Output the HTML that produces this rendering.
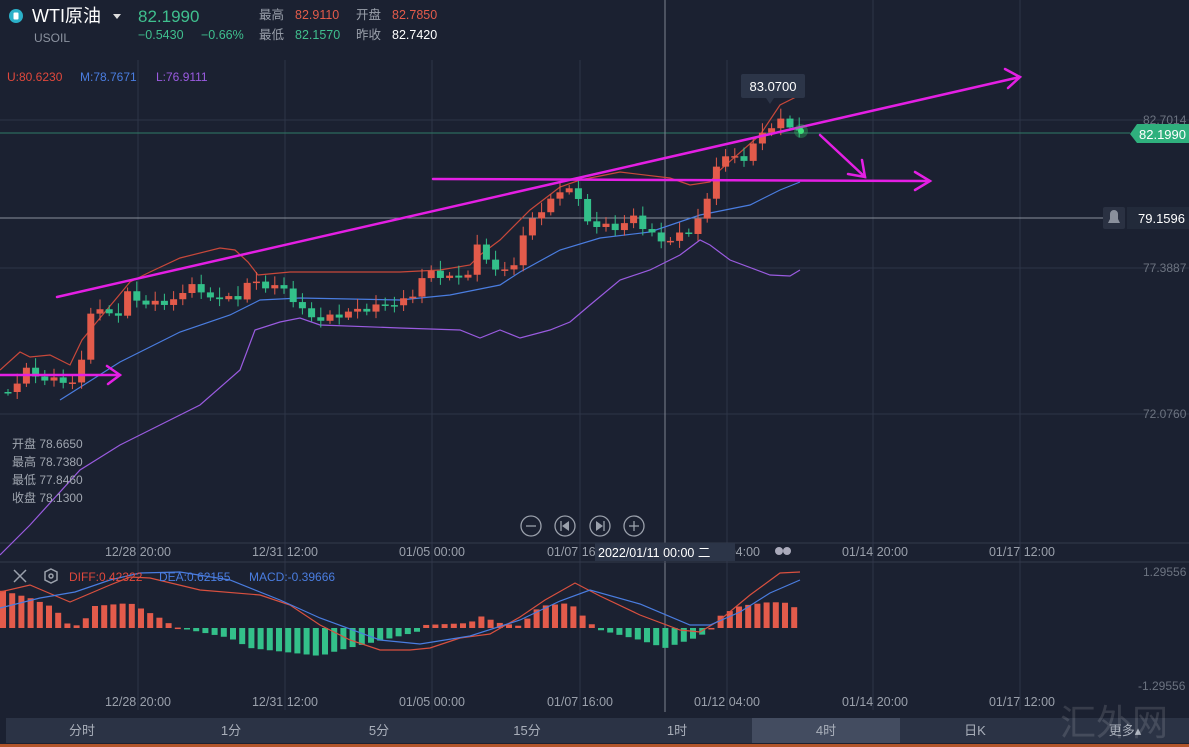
<!DOCTYPE html>
<html><head><meta charset="utf-8">
<style>
html,body{margin:0;padding:0;background:#1b2131;width:1189px;height:747px;overflow:hidden;font-family:"Liberation Sans","Noto Sans CJK SC",sans-serif}
svg{display:block}
text{font-family:"Liberation Sans","Noto Sans CJK SC",sans-serif}
</style></head><body>
<svg id="s" width="1189" height="747" xmlns="http://www.w3.org/2000/svg">
<rect width="1189" height="747" fill="#1b2131"/>
<g id="grid" stroke="#2e3547" stroke-width="1">
<line x1="138" y1="60" x2="138" y2="710"/><line x1="285" y1="60" x2="285" y2="710"/><line x1="432" y1="60" x2="432" y2="710"/><line x1="580" y1="60" x2="580" y2="710"/><line x1="727" y1="60" x2="727" y2="710"/><line x1="873" y1="0" x2="873" y2="710"/><line x1="1020" y1="0" x2="1020" y2="710"/>
<line x1="0" y1="120" x2="1189" y2="120"/><line x1="0" y1="268" x2="1189" y2="268"/><line x1="0" y1="414" x2="1189" y2="414"/>
</g>
<line x1="0" y1="218" x2="1125" y2="218" stroke="#8a909c" stroke-width="1"/>
<line x1="0" y1="133" x2="1130" y2="133" stroke="#2f7a66" stroke-width="1"/>
<line x1="665" y1="0" x2="665" y2="712" stroke="#7d8390" stroke-width="1"/>
<line x1="0" y1="543" x2="1189" y2="543" stroke="#333a4c"/>
<line x1="0" y1="562" x2="1189" y2="562" stroke="#333a4c"/>
<g id="bands" fill="none" stroke-width="1.2"></g>
<g id="candles"></g>
<g id="macd"></g>
<g stroke="#e41fe4" stroke-width="2.5" fill="none" stroke-linecap="round">
<line x1="57" y1="297" x2="1020" y2="77"/><polyline points="1005,69 1020,77 1008,88"/>
<line x1="433" y1="179" x2="930" y2="181"/><polyline points="915,172 930,181 915,190"/>
<line x1="820" y1="135" x2="865" y2="177"/><polyline points="862,160 865,177 848,174"/>
<line x1="0" y1="375" x2="120" y2="375"/><polyline points="107,366 120,375 108,384"/>
</g>
<circle cx="801" cy="131" r="7" fill="#39d36a" opacity="0.3"/><circle cx="801" cy="131" r="3" fill="#3fe07a"/>
<circle cx="16" cy="16" r="7" fill="#2bb0c8"/><rect x="13.5" y="12.5" width="5" height="7" rx="1" fill="#fff"/>
<text x="32" y="22" font-size="18" fill="#fff">WTI原油</text><polygon points="113,14 121,14 117,19" fill="#ddd"/>
<text x="34" y="42" font-size="12" fill="#8c93a0">USOIL</text>
<text x="138" y="22" font-size="17" fill="#3fbf8e">82.1990</text>
<text x="138" y="39" font-size="12.5" fill="#3fbf8e">−0.5430</text><text x="201" y="39" font-size="12.5" fill="#3fbf8e">−0.66%</text>
<text x="259" y="19" font-size="12.5" fill="#9aa0ab">最高</text><text x="295" y="19" font-size="12.5" fill="#e35b4b">82.9110</text>
<text x="356" y="19" font-size="12.5" fill="#9aa0ab">开盘</text><text x="392" y="19" font-size="12.5" fill="#e35b4b">82.7850</text>
<text x="259" y="39" font-size="12.5" fill="#9aa0ab">最低</text><text x="295" y="39" font-size="12.5" fill="#3fbf8e">82.1570</text>
<text x="356" y="39" font-size="12.5" fill="#9aa0ab">昨收</text><text x="392" y="39" font-size="12.5" fill="#fff">82.7420</text>
<text x="7" y="81" font-size="12" fill="#e0483c">U:80.6230</text><text x="80" y="81" font-size="12" fill="#4a7de0">M:78.7671</text><text x="156" y="81" font-size="12" fill="#9a5be0">L:76.9111</text>
<text x="12" y="448" font-size="12" fill="#a0a6b0">开盘 78.6650</text>
<text x="12" y="466" font-size="12" fill="#a0a6b0">最高 78.7380</text>
<text x="12" y="484" font-size="12" fill="#a0a6b0">最低 77.8460</text>
<text x="12" y="502" font-size="12" fill="#a0a6b0">收盘 78.1300</text>
<rect x="741" y="74" width="64" height="24" rx="2" fill="#2c3548"/><polygon points="766,98 774,98 770,104" fill="#2c3548"/>
<text x="773" y="91" font-size="13" fill="#fff" text-anchor="middle">83.0700</text>
<text x="1143" y="124" font-size="12" fill="#6c7380">82.7014</text>
<polygon points="1130,134 1137,124 1189,124 1189,143 1137,143" fill="#2fb07d"/>
<text x="1139" y="139" font-size="13" fill="#fff">82.1990</text>
<rect x="1103" y="207" width="22" height="22" rx="2" fill="#2a3142"/><path d="M1108,223 L1120,223 L1118,219 L1118,214 A4,4 0 0 0 1110,214 L1110,219 Z" fill="#8a909c"/>
<rect x="1127" y="207" width="62" height="22" fill="#222a3a"/>
<text x="1138" y="223" font-size="13" fill="#fff">79.1596</text>
<text x="1143" y="272" font-size="12" fill="#6c7380">77.3887</text>
<text x="1143" y="418" font-size="12" fill="#6c7380">72.0760</text>
<text x="1143" y="576" font-size="12" fill="#6c7380">1.29556</text>
<text x="1138" y="690" font-size="12" fill="#6c7380">-1.29556</text>
<g fill="none" stroke="#9aa0ab" stroke-width="1.3">
<circle cx="531" cy="526" r="10"/><circle cx="565" cy="526" r="10"/><circle cx="600" cy="526" r="10"/><circle cx="634" cy="526" r="10"/>
<line x1="526" y1="526" x2="536" y2="526"/><line x1="629" y1="526" x2="639" y2="526"/><line x1="634" y1="521" x2="634" y2="531"/>
<line x1="561" y1="521" x2="561" y2="531"/><line x1="604" y1="521" x2="604" y2="531"/>
</g>
<polygon points="569,521 569,531 562,526" fill="#9aa0ab"/><polygon points="596,521 596,531 603,526" fill="#9aa0ab"/>
<g font-size="12.5" fill="#9aa0ab" text-anchor="middle">
<text x="138" y="556">12/28 20:00</text><text x="285" y="556">12/31 12:00</text><text x="432" y="556">01/05 00:00</text><text x="580" y="556">01/07 16:00</text><text x="727" y="556">01/12 04:00</text><text x="875" y="556">01/14 20:00</text><text x="1022" y="556">01/17 12:00</text>
<text x="138" y="706">12/28 20:00</text><text x="285" y="706">12/31 12:00</text><text x="432" y="706">01/05 00:00</text><text x="580" y="706">01/07 16:00</text><text x="727" y="706">01/12 04:00</text><text x="875" y="706">01/14 20:00</text><text x="1022" y="706">01/17 12:00</text>
</g>
<rect x="595" y="543" width="140" height="18" fill="#2c3548"/>
<text x="598" y="557" font-size="12.5" fill="#fff">2022/01/11 00:00 二</text>
<circle cx="779" cy="551" r="4" fill="#aab"/><circle cx="787" cy="551" r="4" fill="#aab"/>
<g stroke="#9aa0ab" stroke-width="1.5" fill="none"><line x1="14" y1="570" x2="26" y2="582"/><line x1="26" y1="570" x2="14" y2="582"/><polygon points="51,569 57,572 57,580 51,583 45,580 45,572"/><circle cx="51" cy="576" r="2"/></g>
<text x="69" y="581" font-size="12" fill="#e0483c">DIFF:0.42322</text><text x="159" y="581" font-size="12" fill="#4a7de0">DEA:0.62155</text><text x="249" y="581" font-size="12" fill="#4a7de0">MACD:-0.39666</text>
<rect x="0" y="716" width="1189" height="31" fill="#1b2131"/>
<rect x="6" y="718" width="1183" height="25" fill="#2b3345"/>
<rect x="752" y="718" width="148" height="25" fill="#434c60"/>
<g font-size="13" fill="#a9afba" text-anchor="middle">
<text x="82" y="735">分时</text><text x="231" y="735">1分</text><text x="379" y="735">5分</text><text x="527" y="735">15分</text><text x="677" y="735">1时</text><text x="826" y="735">4时</text><text x="975" y="735">日K</text><text x="1125" y="735">更多▴</text>
</g>
<rect x="0" y="744" width="1189" height="3" fill="#b2552a"/>
<text x="1060" y="735" font-size="36" fill="#ffffff" opacity="0.12">汇外网</text>
</svg>
<script>
(function(){
var NS="http://www.w3.org/2000/svg";
function el(p,t,a){var e=document.createElementNS(NS,t);for(var k in a)e.setAttribute(k,a[k]);p.appendChild(e);return e;}
function interp(pts,x){if(x<=pts[0][0])return pts[0][1];for(var i=1;i<pts.length;i++){if(x<=pts[i][0]){var a=pts[i-1],b=pts[i];return a[1]+(b[1]-a[1])*(x-a[0])/(b[0]-a[0]);}}return pts[pts.length-1][1];}
function pl(g,pts,c){el(g,"polyline",{points:pts.map(function(p){return p.join(",")}).join(" "),stroke:c,fill:"none","stroke-width":1.2});}
var bg=document.getElementById("bands");
pl(bg,[[0,370],[20,352],[30,357],[50,355],[70,365],[82,340],[100,318],[130,282],[150,272],[180,258],[220,248],[235,250],[248,262],[258,275],[290,272],[400,272],[440,270],[470,265],[480,255],[500,240],[530,210],[560,187],[580,180],[620,172],[670,178],[690,185],[710,182],[720,170],[760,135],[780,105],[800,95]],"#c8483a");
pl(bg,[[60,400],[120,362],[180,332],[230,315],[260,300],[300,298],[400,300],[450,295],[500,285],[520,272],[560,250],[600,238],[650,232],[700,215],[750,205],[780,190],[800,182]],"#4a7de0");
pl(bg,[[0,555],[30,525],[80,470],[120,445],[160,425],[200,405],[240,370],[255,330],[280,322],[300,318],[320,325],[400,328],[460,330],[480,338],[500,330],[520,338],[550,330],[570,322],[590,305],[620,280],[650,270],[680,255],[700,240],[710,245],[730,260],[770,275],[790,276],[800,270]],"#9a5be0");
var K=[[8,392],[27,370],[45,380],[70,380],[80,395],[84,310],[120,314],[130,288],[141,305],[180,300],[190,278],[200,295],[236,300],[248,282],[290,290],[296,308],[320,320],[350,312],[410,300],[425,272],[465,280],[478,245],[490,265],[510,275],[525,230],[545,205],[570,185],[590,225],[620,228],[632,216],[660,242],[690,232],[708,200],[718,157],[745,158],[764,130],[782,121],[791,126],[801,131]];
var cg=document.getElementById("candles"),prev=392;
for(var i=0;i<87;i++){var x=8+i*9.2;var c=interp(K,x)+Math.sin(i*2.3)*3;var o=prev;prev=c;
var up=c<o,col=up?"#e35b4b":"#33c08a";var tp=Math.min(o,c),bt=Math.max(o,c);if(bt-tp<1.5)bt=tp+1.5;
var w=3+Math.abs(Math.sin(i*1.7))*7;
el(cg,"line",{x1:x,x2:x,y1:tp-w,y2:bt+w*0.7,stroke:col,"stroke-width":1});
el(cg,"rect",{x:x-3.5,y:tp,width:7,height:bt-tp,fill:col});}
var M=[[0,38],[30,30],[55,20],[65,5],[80,2],[95,22],[130,25],[160,10],[175,1],[185,-1],[230,-10],[250,-20],[320,-28],[340,-22],[400,-8],[420,-3],[425,3],[470,5],[480,12],[500,5],[520,2],[540,22],[570,25],[590,5],[600,-2],[640,-12],[665,-20],[695,-10],[710,-3],[716,10],[740,22],[770,26],[790,25],[800,15]];
var mg=document.getElementById("macd");
for(var j=0;j<87;j++){var xx=3+j*9.2;var v=interp(M,xx);var cl=v>=0?"#e35b4b":"#33c08a";
el(mg,"rect",{x:xx-3,y:v>=0?628-v:628,width:6,height:Math.max(Math.abs(v),1.5),fill:cl});}
pl(mg,[[0,592],[30,585],[70,602],[110,585],[130,577],[150,578],[200,590],[260,595],[290,605],[320,625],[350,640],[380,650],[410,650],[430,648],[460,638],[490,634],[520,617],[545,600],[575,583],[600,596],[640,615],[680,630],[700,632],[720,620],[750,595],[780,573],[800,572]],"#d9503f");
pl(mg,[[0,608],[40,598],[75,592],[110,580],[140,573],[180,572],[230,580],[280,600],[320,618],[380,640],[420,644],[470,636],[520,620],[560,601],[590,590],[640,604],[690,625],[710,625],[740,612],[770,593],[800,580]],"#4a7de0");
})();
</script>
</body></html>
